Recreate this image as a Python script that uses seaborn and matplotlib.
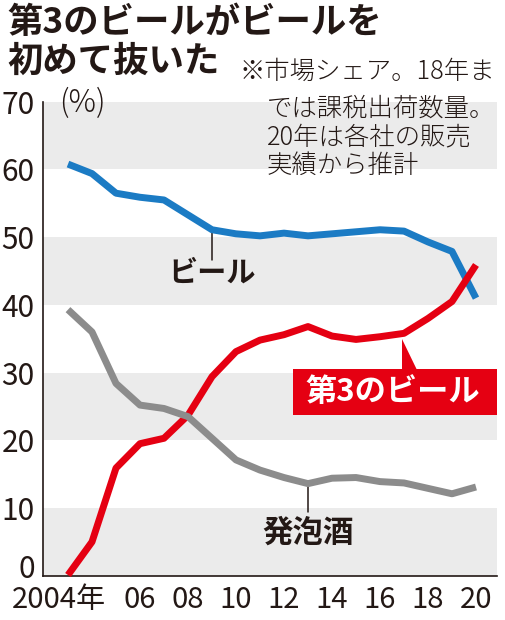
import numpy as np
import pandas as pd
import matplotlib
matplotlib.use('Agg')
import matplotlib.pyplot as plt
from matplotlib.patches import Polygon
from matplotlib.transforms import ScaledTranslation
import seaborn as sns

# 市場シェア (%)
years = list(range(2003, 2021))
beer = [60.8, 59.4, 56.5, 55.9, 55.5, 53.3, 51.1, 50.5, 50.2, 50.6,
        50.2, 50.5, 50.8, 51.1, 50.9, 49.3, 47.9, 41.0]
third = [0.1, 5.0, 15.9, 19.5, 20.3, 23.7, 29.4, 33.1, 34.8, 35.6,
         36.8, 35.4, 34.9, 35.3, 35.8, 38.0, 40.5, 45.9]
happoshu = [39.3, 36.0, 28.4, 25.2, 24.7, 23.5, 20.3, 17.1, 15.6, 14.5,
            13.6, 14.4, 14.5, 13.9, 13.7, 12.9, 12.1, 13.1]
series_names = ['ビール', '第3のビール', '発泡酒']
colors = ['#1b7bc4', '#e50012', '#8c8c8c']
xtick_years = list(range(2004, 2021, 2))
xtick_labels = ['2004年', '06', '08', '10', '12', '14', '16', '18', '20']
yticks = list(range(0, 71, 10))

df = pd.DataFrame({
    'year': years * 3,
    'share': beer + third + happoshu,
    'kind': [n for n in series_names for _ in years],
})

sns.set_style('white')
plt.rcParams['font.family'] = ['Noto Sans CJK JP', 'DejaVu Sans']
ink = '#231815'

fig = plt.figure(figsize=(5.06, 6.2), dpi=100)
ax = fig.add_axes([43 / 506, 1 - 575.7 / 620, (497 - 43) / 506, (575.7 - 101.8) / 620])

for lo in range(0, 70, 20):
    ax.axhspan(lo, lo + 10, color='#ebebeb', lw=0, zorder=0)

sns.lineplot(data=df, x='year', y='share', hue='kind', hue_order=series_names,
             palette=dict(zip(series_names, colors)), linewidth=5,
             legend=False, ax=ax, zorder=3, clip_on=False)
for line in ax.lines:
    line.set_solid_capstyle('butt')
    line.set_solid_joinstyle('round')

ax.set_xlim(2003 - 25 / 24, 2020 + 21 / 24)
ax.set_ylim(0, 70)
sns.despine(ax=ax)
for s in ['left', 'bottom']:
    ax.spines[s].set_color(ink)
    ax.spines[s].set_linewidth(1.2)

ax.set_xticks(xtick_years)
ax.set_xticklabels(xtick_labels, fontsize=21, color=ink)
ax.set_xticks(list(range(2005, 2020, 2)), minor=True)
ax.tick_params(axis='x', which='major', direction='inout', length=13, width=1.3,
               color=ink, pad=0)
ax.tick_params(axis='x', which='minor', direction='in', length=5, width=1.3, color=ink)
first = ax.get_xticklabels()[0]
first.set_horizontalalignment('right')
first.set_transform(first.get_transform() + ScaledTranslation(0.135, 0, fig.dpi_scale_trans))

ax.set_yticks(yticks)
ax.set_yticklabels([str(v) for v in yticks], fontsize=21.5, color=ink)
ax.tick_params(axis='y', direction='out', length=4, width=1.3, color=ink, pad=2)
zero = ax.get_yticklabels()[0]
zero.set_transform(zero.get_transform() + ScaledTranslation(0, 0.10, fig.dpi_scale_trans))
ax.set_xlabel('')
ax.set_ylabel('')

# series labels
ax.plot([2009, 2009], [50.6, 46.6], color=ink, lw=1.1, zorder=2)
ax.text(2009.0, 44.7, 'ビール', ha='center', va='center', fontsize=21,
        fontweight='bold', color=ink)
ax.plot([2013, 2013], [13.3, 9.4], color=ink, lw=1.1, zorder=2)
ax.text(2013, 6.4, '発泡酒', ha='center', va='center', fontsize=22,
        fontweight='bold', color=ink)
ax.add_patch(Polygon([[2016.92, 35.0], [2016.92, 30.4], [2017.55, 30.4]],
                     closed=True, color='#e50012', lw=0, zorder=4))
ax.add_patch(plt.Rectangle((2012.375, 23.7), 2020.875 - 2012.375, 6.8,
                           color='#e50012', lw=0, zorder=4, clip_on=False))
ax.text(2016.55, 27.1, '第3のビール', ha='center', va='center', fontsize=22.5,
        fontweight='bold', color='white', zorder=5)

# title and notes
fig.text(7 / 506, 1 - 23 / 620, '第3のビールがビールを', ha='left', va='center',
         fontsize=25.5, fontweight='bold', color=ink)
fig.text(7 / 506, 1 - 61 / 620, '初めて抜いた', ha='left', va='center',
         fontsize=25.5, fontweight='bold', color=ink)
fig.text(240 / 506, 1 - 72 / 620, '※市場シェア。18年ま', ha='left', va='center',
         fontsize=18.3, fontweight='light', color=ink)
for i, s in enumerate(['では課税出荷数量。', '20年は各社の販売', '実績から推計']):
    fig.text(267 / 506, 1 - (108 + 29 * i) / 620, s, ha='left', va='center',
             fontsize=18.3, fontweight='light', color=ink)
fig.text(59 / 506, 1 - 103 / 620, '(%)', ha='left', va='center',
         fontsize=22, fontweight='light', color=ink)

fig.savefig('out.png', dpi=100, facecolor='white')
